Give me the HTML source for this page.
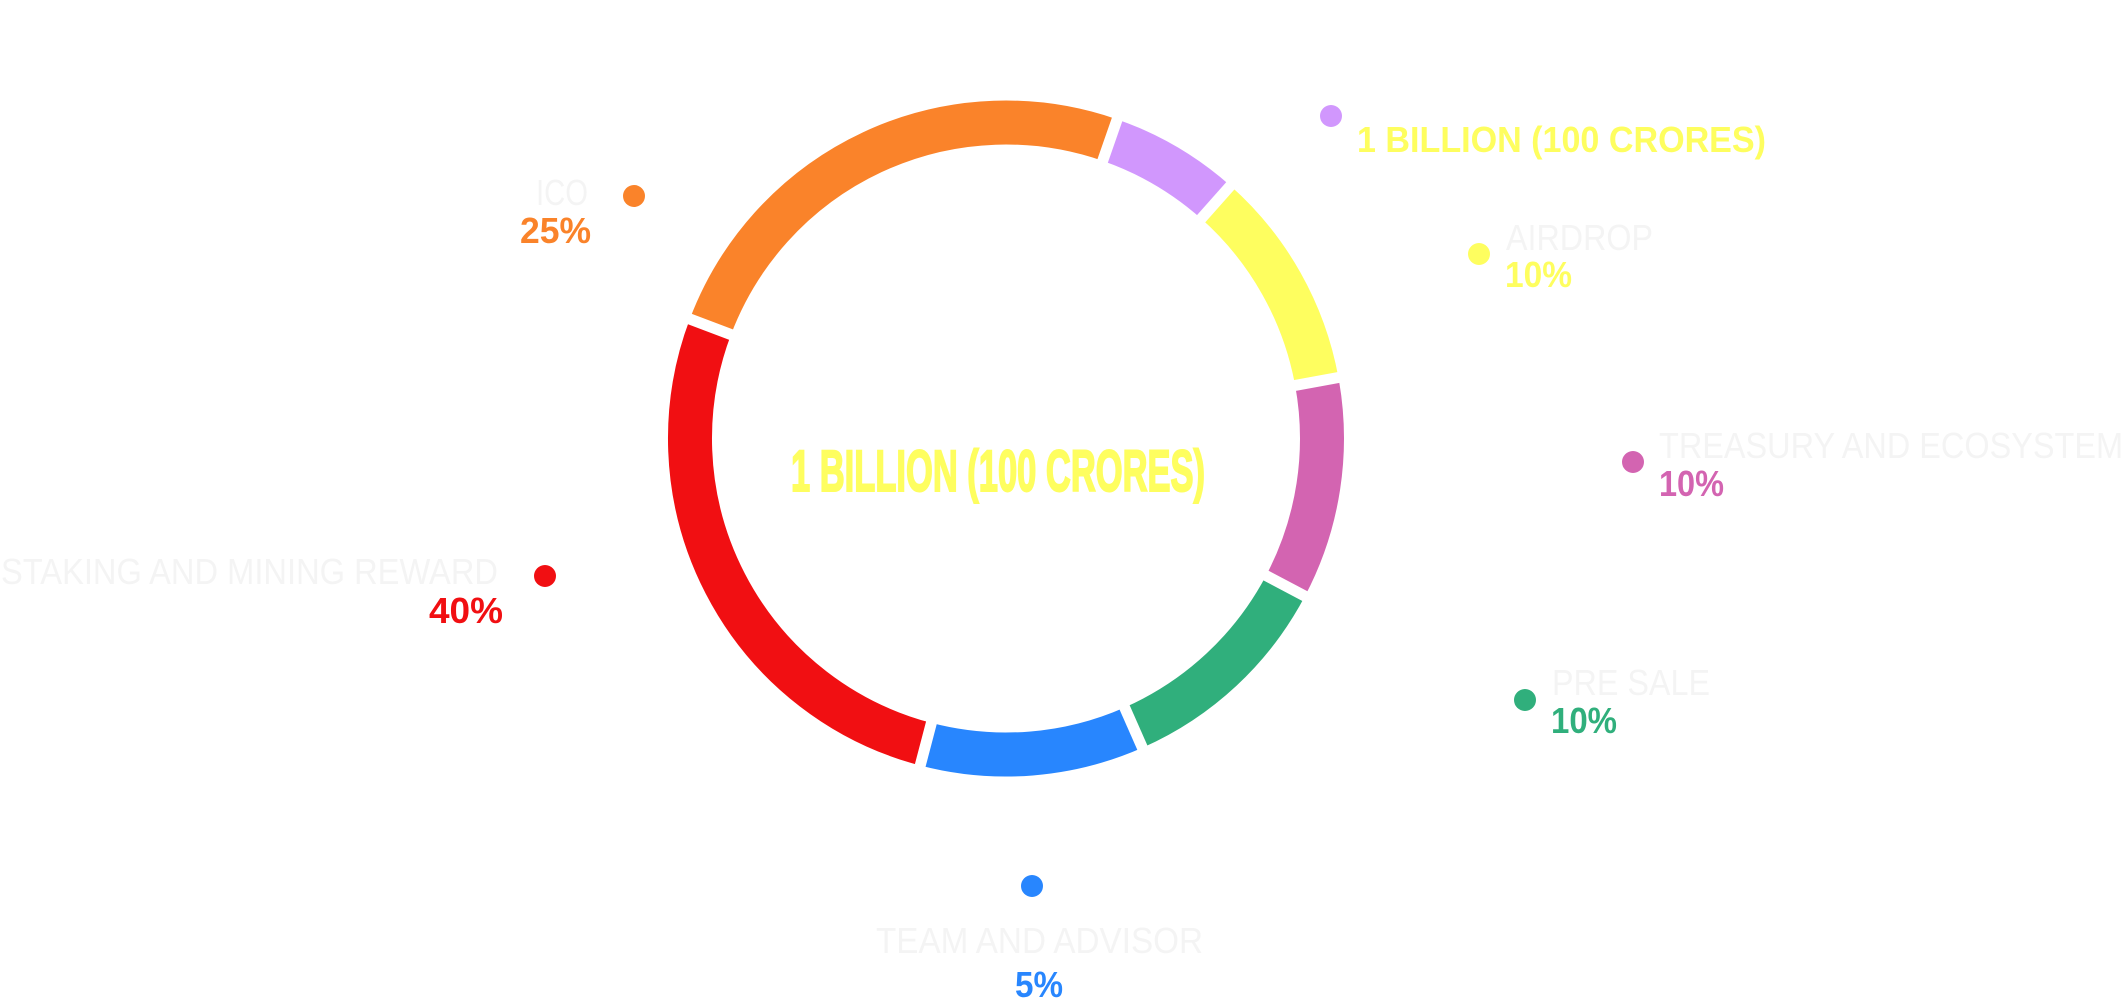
<!DOCTYPE html>
<html>
<head>
<meta charset="utf-8">
<style>
  html,body{margin:0;padding:0;background:#ffffff;}
  body{width:2125px;height:998px;overflow:hidden;}
  svg{display:block;}
  .lbl{font-family:"Liberation Sans",sans-serif;font-weight:400;fill:#f4f4f4;font-size:36px;}
  .pct{font-family:"Liberation Sans",sans-serif;font-weight:700;font-size:36px;}
</style>
</head>
<body>
<svg width="2125" height="998" viewBox="0 0 2125 998" xmlns="http://www.w3.org/2000/svg">
  <rect width="2125" height="998" fill="#ffffff"/>
  <!-- donut arcs -->
  <g fill="none" stroke-width="44">
    <path d="M710.4,326.8 A316,316 0 0 1 1109.9,140.1" stroke="#fa832a"/>
    <path d="M1109.9,140.1 A316,316 0 0 1 1215.8,202.2" stroke="#d197fd"/>
    <path d="M1215.8,202.2 A316,316 0 0 1 1316.8,381.5" stroke="#fefe5f"/>
    <path d="M1316.8,381.5 A316,316 0 0 1 1285.5,585.9" stroke="#d364b1"/>
    <path d="M1285.5,585.9 A316,316 0 0 1 1133.5,727.6" stroke="#30af7c"/>
    <path d="M1133.5,727.6 A316,316 0 0 1 925.8,744.2" stroke="#2886fe"/>
    <path d="M925.8,744.2 A316,316 0 0 1 710.4,326.8" stroke="#f10f12"/>
  </g>
  <!-- gaps -->
  <g stroke="#ffffff" stroke-width="11">
    <line x1="1006" y1="160" x2="1006" y2="84" transform="rotate(19.2 1006 438.5)"/>
    <line x1="1006" y1="160" x2="1006" y2="84" transform="rotate(41.6 1006 438.5)"/>
    <line x1="1006" y1="160" x2="1006" y2="84" transform="rotate(79.6 1006 438.5)"/>
    <line x1="1006" y1="160" x2="1006" y2="84" transform="rotate(117.8 1006 438.5)"/>
    <line x1="1006" y1="160" x2="1006" y2="84" transform="rotate(156.2 1006 438.5)"/>
    <line x1="1006" y1="160" x2="1006" y2="84" transform="rotate(194.7 1006 438.5)"/>
    <line x1="1006" y1="160" x2="1006" y2="84" transform="rotate(290.7 1006 438.5)"/>
  </g>

  <!-- center title -->
  <text x="791" y="491" font-family="'Liberation Sans',sans-serif" font-weight="700" font-size="58" fill="#fefe5f" stroke="#fefe5f" stroke-width="2" textLength="414" lengthAdjust="spacingAndGlyphs">1 BILLION (100 CRORES)</text>

  <!-- purple legend -->
  <circle cx="1331" cy="116" r="11" fill="#d197fd"/>
  <text class="pct" x="1357" y="152" fill="#fefe5f" textLength="409" lengthAdjust="spacingAndGlyphs">1 BILLION (100 CRORES)</text>

  <!-- airdrop -->
  <circle cx="1479" cy="254" r="11" fill="#fefe5f"/>
  <text class="lbl" x="1506" y="250" textLength="147" lengthAdjust="spacingAndGlyphs">AIRDROP</text>
  <text class="pct" x="1505" y="287" fill="#fefe5f" textLength="67" lengthAdjust="spacingAndGlyphs">10%</text>

  <!-- treasury -->
  <circle cx="1633" cy="462" r="11" fill="#d364b1"/>
  <text class="lbl" x="1659" y="458" textLength="464" lengthAdjust="spacingAndGlyphs">TREASURY AND ECOSYSTEM</text>
  <text class="pct" x="1659" y="496" fill="#d364b1" textLength="65" lengthAdjust="spacingAndGlyphs">10%</text>

  <!-- pre sale -->
  <circle cx="1525" cy="700" r="11" fill="#30af7c"/>
  <text class="lbl" x="1552" y="695" textLength="158" lengthAdjust="spacingAndGlyphs">PRE SALE</text>
  <text class="pct" x="1551" y="733" fill="#30af7c" textLength="66" lengthAdjust="spacingAndGlyphs">10%</text>

  <!-- team -->
  <circle cx="1032" cy="886" r="11" fill="#2886fe"/>
  <text class="lbl" x="876" y="953" textLength="327" lengthAdjust="spacingAndGlyphs">TEAM AND ADVISOR</text>
  <text class="pct" x="1015" y="997" fill="#2886fe" textLength="48" lengthAdjust="spacingAndGlyphs">5%</text>

  <!-- staking -->
  <circle cx="545" cy="576" r="11" fill="#f10f12"/>
  <text class="lbl" x="1" y="584" textLength="497" lengthAdjust="spacingAndGlyphs">STAKING AND MINING REWARD</text>
  <text class="pct" x="429" y="623" fill="#f10f12" textLength="74" lengthAdjust="spacingAndGlyphs">40%</text>

  <!-- ico -->
  <circle cx="634" cy="196" r="11" fill="#fa832a"/>
  <text class="lbl" x="536" y="205" textLength="52" lengthAdjust="spacingAndGlyphs">ICO</text>
  <text class="pct" x="520" y="243" fill="#fa832a" textLength="71" lengthAdjust="spacingAndGlyphs">25%</text>
</svg>
</body>
</html>
